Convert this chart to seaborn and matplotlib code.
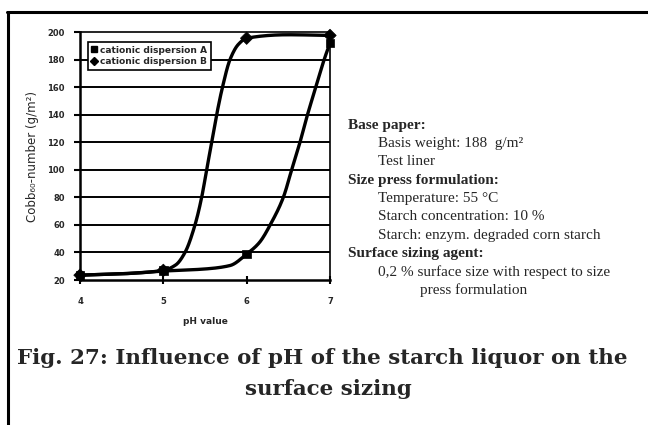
import numpy as np
import pandas as pd
import matplotlib
matplotlib.use("Agg")
import matplotlib.pyplot as plt
from matplotlib.lines import Line2D
import seaborn as sns

# ---- data ----
ph = [4, 5, 6, 7]
disp_a = [23.5, 27, 38.8, 192]
disp_b = [23.5, 27, 195.5, 197.5]

# traced course of the drawn (smoothed) curves
curve_ph_a = [4, 4.5, 5, 5.5, 5.8, 6.0, 6.15, 6.3, 6.44, 6.54, 6.64, 6.73, 6.83, 6.93, 7.0]
curve_a = [23.5, 24.5, 26.5, 28, 30.5, 38.8, 47, 62, 80, 100, 120, 140, 160, 180, 192]
curve_ph_b = [4, 4.5, 5, 5.15, 5.26, 5.38, 5.46, 5.52, 5.58, 5.64, 5.71, 5.80, 5.9, 6.0, 6.5, 7.0]
curve_b = [23.5, 24.5, 27, 31, 40, 60, 80, 100, 120, 140, 160, 180, 191, 195.5, 198, 197.5]

series_names = ["cationic dispersion A", "cationic dispersion B"]
y_ticks = [20, 40, 60, 80, 100, 120, 140, 160, 180, 200]
x_ticks = [4, 5, 6, 7]

info_lines = [
    ("Base paper:", True),
    ("Basis weight: 188  g/m²", False),
    ("Test liner", False),
    ("Size press formulation:", True),
    ("Temperature: 55 °C", False),
    ("Starch concentration: 10 %", False),
    ("Starch: enzym. degraded corn starch", False),
    ("Surface sizing agent:", True),
    ("0,2 % surface size with respect to size", False),
    ("press formulation", False),
]
caption_1 = "Fig. 27: Influence of pH of the starch liquor on the"
caption_2 = "surface sizing"


def pchip(x, y, xn):
    x = np.asarray(x, float); y = np.asarray(y, float)
    h = np.diff(x); d = np.diff(y) / h
    m = np.zeros_like(y)
    for k in range(1, len(x) - 1):
        if d[k - 1] * d[k] > 0:
            w1 = 2 * h[k] + h[k - 1]; w2 = h[k] + 2 * h[k - 1]
            m[k] = (w1 + w2) / (w1 / d[k - 1] + w2 / d[k])
    m[0] = d[0]; m[-1] = d[-1]
    idx = np.clip(np.searchsorted(x, xn) - 1, 0, len(h) - 1)
    t = (xn - x[idx]) / h[idx]
    h00 = 2 * t**3 - 3 * t**2 + 1; h10 = t**3 - 2 * t**2 + t
    h01 = -2 * t**3 + 3 * t**2; h11 = t**3 - t**2
    return h00 * y[idx] + h10 * h[idx] * m[idx] + h01 * y[idx + 1] + h11 * h[idx] * m[idx + 1]


sns.set_style("white")
plt.rcParams["font.family"] = ["DejaVu Sans"]

fig = plt.figure(figsize=(6.48, 4.25), dpi=100)
ax = fig.add_axes([80 / 648, 1 - 280 / 425, 250 / 648, 248 / 425])

xs = np.linspace(4, 7, 500)
curves = pd.concat([
    pd.DataFrame({"pH": xs, "val": pchip(curve_ph_a, curve_a, xs), "s": series_names[0]}),
    pd.DataFrame({"pH": xs, "val": pchip(curve_ph_b, curve_b, xs), "s": series_names[1]}),
])
sns.lineplot(data=curves, x="pH", y="val", hue="s", palette=["black", "black"],
             lw=2.4, legend=False, ax=ax, sort=False, estimator=None)

pts = pd.concat([
    pd.DataFrame({"pH": ph, "val": disp_a, "s": series_names[0]}),
    pd.DataFrame({"pH": ph, "val": disp_b, "s": series_names[1]}),
])
sns.scatterplot(data=pts, x="pH", y="val", hue="s", style="s",
                markers={series_names[0]: "s", series_names[1]: "D"},
                palette=["black", "black"], s=40, edgecolor="black",
                legend=False, ax=ax, zorder=5, clip_on=False)

ax.set_xlim(4, 7)
ax.set_ylim(20, 200)
ax.set_xticks(x_ticks)
ax.set_yticks(y_ticks)
ax.set_xticklabels([str(v) for v in x_ticks])
ax.set_yticklabels([str(v) for v in y_ticks])
ax.yaxis.grid(True, color="black", lw=1.4)
ax.xaxis.grid(False)
ax.get_ygridlines()[-1].set_visible(False)
ax.get_ygridlines()[0].set_visible(False)
ax.set_axisbelow(True)

for side in ["left", "bottom"]:
    ax.spines[side].set_color("black")
    ax.spines[side].set_linewidth(1.8)
for side in ["top", "right"]:
    ax.spines[side].set_color("black")
    ax.spines[side].set_linewidth(1.2)
    ax.spines[side].set_linestyle((0, (1, 1)))

ax.tick_params(axis="y", direction="out", length=4, width=1.5, color="black",
               labelsize=6, pad=7, left=True)
ax.tick_params(axis="x", direction="inout", length=6, width=1.5, color="black",
               labelsize=6, pad=9, bottom=True)
for lab in ax.get_xticklabels() + ax.get_yticklabels():
    lab.set_fontweight("bold")

ax.set_xlabel("pH value", fontsize=6.5, fontweight="bold", labelpad=8)
ax.set_ylabel("Cobb₆₀-number (g/m²)", fontsize=8.5, labelpad=6)

handles = [
    Line2D([], [], marker="s", color="black", ls="none", markersize=5),
    Line2D([], [], marker="D", color="black", ls="none", markersize=4.5),
]
leg = ax.legend(handles, series_names, loc="upper left", bbox_to_anchor=(0.032, 0.96),
                frameon=True, fancybox=False, edgecolor="black", framealpha=1,
                prop={"size": 6.6, "weight": "bold"}, handlelength=0.6,
                handletextpad=0.3, borderpad=0.4, labelspacing=0.3, borderaxespad=0)
leg.get_frame().set_linewidth(1.2)

# info text block
y0 = 125
for i, (txt, bold) in enumerate(info_lines):
    y = y0 + i * 18.4
    if bold:
        x = 348
    elif txt == "press formulation":
        x = 420
    else:
        x = 378
    fig.text(x / 648, 1 - y / 425, txt, fontsize=11, family="Liberation Serif",
             fontweight="bold" if bold else "normal", va="center", ha="left")

fig.text(322 / 648, 1 - 358 / 425, caption_1, fontsize=15.4, family="DejaVu Serif",
         fontweight="bold", ha="center", va="center")
fig.text(328 / 648, 1 - 389 / 425, caption_2, fontsize=15.4, family="DejaVu Serif",
         fontweight="bold", ha="center", va="center")

# page frame
fig.add_artist(Line2D([7 / 648, 1], [1 - 12 / 425, 1 - 12 / 425], color="black", lw=2.2,
                      transform=fig.transFigure))
fig.add_artist(Line2D([8 / 648, 8 / 648], [1 - 12 / 425, 0], color="black", lw=2.2,
                      transform=fig.transFigure))

fig.savefig("out.png", dpi=100)
